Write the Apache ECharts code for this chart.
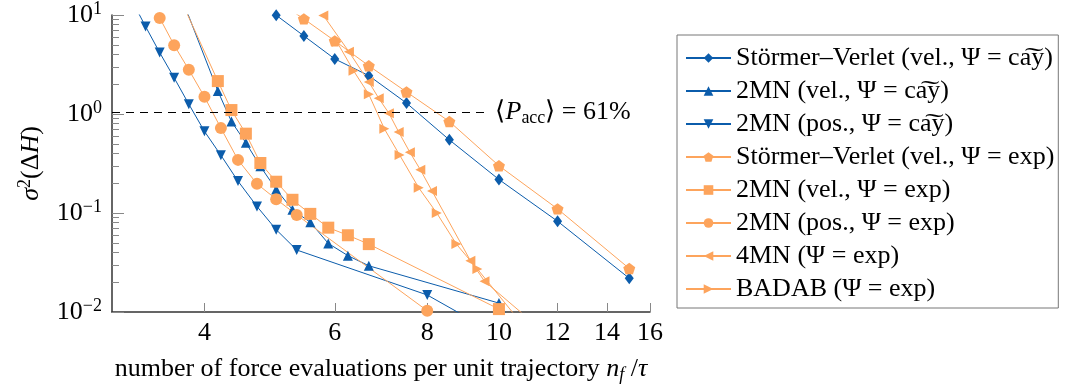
<!DOCTYPE html>
<html>
<head>
<meta charset="utf-8">
<script src="https://cdn.jsdelivr.net/npm/echarts@6/dist/echarts.min.js"></script>
<style>
  html, body { margin: 0; padding: 0; background: #fff; }
  #box { width: 1070px; height: 390px; }
</style>
</head>
<body>
<div id="box"></div>
<script>
// tick labels
var xTicks = [4, 6, 8, 10, 12, 14, 16];
var yMinorTicks = [0.02, 0.03, 0.04, 0.05, 0.06, 0.07, 0.08, 0.09,
  0.2, 0.3, 0.4, 0.5, 0.6, 0.7, 0.8, 0.9,
  2, 3, 4, 5, 6, 7, 8, 9];

// acceptance rate level (dashed line)
var accLevel = 1.05;
var accLineEnd = 9.65;

// Störmer–Verlet (vel., cay)
var svCayX = [5, 5.45, 6, 6.67, 7.5, 8.57, 10, 12, 15];
var svCayY = [9.95, 6.15, 3.6, 2.44, 1.29, 0.548, 0.218, 0.0826, 0.0219];
// 2MN (vel., cay)
var mn2VelCayX = [3.7, 4.17, 4.35, 4.55, 4.76, 5.0, 5.26, 5.56, 5.88, 6.25, 6.67, 10, 12.5];
var mn2VelCayY = [17, 1.71, 0.84, 0.512, 0.296, 0.173, 0.108, 0.0807, 0.0493, 0.0371, 0.0293, 0.0123, 0.00105];
// 2MN (pos., cay)
var mn2PosCayX = [3.2, 3.33, 3.48, 3.64, 3.81, 4.0, 4.21, 4.44, 4.71, 5.0, 5.33, 8.0, 10];
var mn2PosCayY = [13.5, 7.66, 4.17, 2.32, 1.257, 0.668, 0.383, 0.21, 0.1165, 0.0679, 0.0423, 0.01486, 0.0058];
// Störmer–Verlet (vel., exp)
var svExpX = [5, 5.45, 6, 6.67, 7.5, 8.57, 10, 12, 15];
var svExpY = [14.0, 9.13, 5.48, 3.07, 1.67, 0.84, 0.30, 0.110, 0.0275];
// 2MN (vel., exp)
var mn2VelExpX = [3.7, 4.17, 4.35, 4.55, 4.76, 5.0, 5.26, 5.56, 5.88, 6.25, 6.67, 10];
var mn2VelExpY = [15.3, 2.15, 1.096, 0.633, 0.32, 0.207, 0.136, 0.098, 0.0711, 0.0596, 0.0485, 0.0107];
// 2MN (pos., exp)
var mn2PosExpX = [3.48, 3.64, 3.81, 4.0, 4.21, 4.44, 4.71, 5.0, 5.33, 8.0];
var mn2PosExpY = [9.34, 4.96, 2.80, 1.49, 0.72, 0.344, 0.197, 0.138, 0.0957, 0.0103];
// 4MN (exp)
var mn4X = [5.79, 6.27, 6.67, 6.88, 7.1, 7.32, 7.58, 7.83, 8.12, 9.15, 9.56, 12];
var mn4Y = [9.9, 4.26, 2.11, 1.44, 1.02, 0.658, 0.41, 0.274, 0.167, 0.033, 0.0205, 0.0048];
// BADAB (exp)
var badabX = [6.04, 6.36, 6.67, 7.0, 7.34, 7.79, 8.24, 8.76, 9.35, 11];
var badabY = [5.36, 2.74, 1.58, 0.71, 0.386, 0.18, 0.1, 0.0485, 0.0272, 0.0061];

var blue = '#0b5cab';
var orange = '#fda45c';
var font = 'Liberation Serif';
var tilde = 'ca\u0360y';
var pentagon = 'path://M0,-10L9.51,-3.09L5.88,8.09L-5.88,8.09L-9.51,-3.09Z';

function pairs(xs, ys) {
  return xs.map(function (x, i) { return [x, ys[i]]; });
}

function makeLine(name, xs, ys, color, symbol, size, rotate) {
  return {
    name: name,
    type: 'line',
    data: pairs(xs, ys),
    symbol: symbol,
    symbolSize: size,
    symbolRotate: rotate || 0,
    symbolKeepAspect: true,
    color: color,
    itemStyle: { color: color },
    lineStyle: { color: color, width: 1 },
    emphasis: { disabled: true },
    clip: true
  };
}

var series = [
  makeLine('Störmer–Verlet (vel., Ψ = ' + tilde + ')', svCayX, svCayY, blue, 'diamond', [9, 12]),
  makeLine('2MN (vel., Ψ = ' + tilde + ')', mn2VelCayX, mn2VelCayY, blue, 'triangle', 10),
  makeLine('2MN (pos., Ψ = ' + tilde + ')', mn2PosCayX, mn2PosCayY, blue, 'triangle', 10, 180),
  makeLine('Störmer–Verlet (vel., Ψ = exp)', svExpX, svExpY, orange, pentagon, 12),
  makeLine('2MN (vel., Ψ = exp)', mn2VelExpX, mn2VelExpY, orange, 'rect', 12),
  makeLine('2MN (pos., Ψ = exp)', mn2PosExpX, mn2PosExpY, orange, 'circle', 12),
  makeLine('4MN (Ψ = exp)', mn4X, mn4Y, orange, 'triangle', 10, 90),
  makeLine('BADAB (Ψ = exp)', badabX, badabY, orange, 'triangle', 10, -90)
];

// dashed acceptance line with its label
series[0].markLine = {
  silent: true,
  symbol: ['none', 'none'],
  lineStyle: { color: '#000', width: 1, type: [8, 6] },
  label: {
    show: true,
    position: 'end',
    distance: 8,
    formatter: '⟨{i|P}{sub|acc}⟩ = 61%',
    color: '#000',
    fontFamily: font,
    fontSize: 26,
    lineHeight: 30,
    rich: {
      i: { fontFamily: font, fontStyle: 'italic', fontSize: 26, lineHeight: 30 },
      sub: { fontFamily: font, fontSize: 18, lineHeight: 18, verticalAlign: 'bottom' }
    }
  },
  data: [[{ coord: [3, accLevel] }, { coord: [accLineEnd, accLevel] }]]
};

var myChart = echarts.init(document.getElementById('box'));

var option = {
  animation: false,
  backgroundColor: '#fff',
  textStyle: { fontFamily: font },
  grid: { left: 112, top: 11, width: 538, height: 301 },
  legend: {
    orient: 'vertical',
    left: 677,
    top: 35,
    padding: [10, 4, 6, 8],
    itemGap: 7,
    itemWidth: 45,
    itemHeight: 12,
    borderColor: '#777',
    borderWidth: 1,
    backgroundColor: '#fff',
    textStyle: { fontFamily: font, fontSize: 26, color: '#000', lineHeight: 26 },
    data: series.map(function (s) { return s.name; })
  },
  xAxis: [{
    type: 'log',
    logBase: 10,
    min: 3,
    max: 16,
    position: 'bottom',
    axisLine: { onZero: false, lineStyle: { color: '#333', width: 1.5 } },
    axisTick: { show: false },
    axisLabel: { show: false },
    splitLine: { show: false }
  }, {
    // tick/label axis in log10 space
    type: 'value',
    min: Math.log10(3),
    max: Math.log10(16),
    position: 'bottom',
    axisLine: { show: false, onZero: false },
    axisTick: {
      show: true, inside: true, length: 9,
      customValues: xTicks.map(Math.log10),
      lineStyle: { color: '#888', width: 1 }
    },
    axisLabel: {
      customValues: xTicks.map(Math.log10),
      formatter: function (v) { return String(Math.round(Math.pow(10, v))); },
      fontFamily: font, fontSize: 26, color: '#000', margin: 8
    },
    splitLine: { show: false },
    name: 'number of force evaluations per unit trajectory {i|n}{sub|f} /{i|τ}',
    nameLocation: 'middle',
    nameGap: 42,
    nameTextStyle: {
      fontFamily: font, fontSize: 26, color: '#000', lineHeight: 30,
      rich: {
        i: { fontFamily: font, fontStyle: 'italic', fontSize: 26, lineHeight: 30 },
        sub: { fontFamily: font, fontStyle: 'italic', fontSize: 18, lineHeight: 18, verticalAlign: 'bottom' }
      }
    }
  }],
  yAxis: [{
    type: 'log',
    logBase: 10,
    min: 0.01,
    max: 10,
    position: 'left',
    axisLine: { show: true, onZero: false, lineStyle: { color: '#333', width: 1.5 } },
    axisTick: { show: true, inside: true, length: 12, lineStyle: { color: '#888', width: 1 } },
    axisLabel: {
      margin: 10,
      formatter: function (v) {
        var e = Math.round(Math.log10(v));
        return '10{sup|' + (e < 0 ? '−' + (-e) : e) + '}';
      },
      fontFamily: font, fontSize: 26, color: '#000', lineHeight: 30,
      rich: {
        sup: { fontFamily: font, fontSize: 18, lineHeight: 18, verticalAlign: 'top' }
      }
    },
    splitLine: { show: false },
    name: '{i|σ}{sup|2}(Δ{i|H})',
    nameLocation: 'middle',
    nameRotate: 90,
    nameGap: 53,
    nameTextStyle: {
      fontFamily: font, fontSize: 26, color: '#000', lineHeight: 30,
      rich: {
        i: { fontFamily: font, fontStyle: 'italic', fontSize: 26, lineHeight: 30 },
        sup: { fontFamily: font, fontSize: 18, lineHeight: 18, verticalAlign: 'top' }
      }
    }
  }, {
    // minor ticks in log10 space
    type: 'value',
    min: -2,
    max: 1,
    position: 'left',
    axisLine: { show: false, onZero: false },
    axisTick: {
      show: true, inside: true, length: 7,
      customValues: yMinorTicks.map(Math.log10),
      lineStyle: { color: '#888', width: 1 }
    },
    axisLabel: { show: false },
    splitLine: { show: false }
  }],
  series: series
};

myChart.setOption(option);
</script>
</body>
</html>
